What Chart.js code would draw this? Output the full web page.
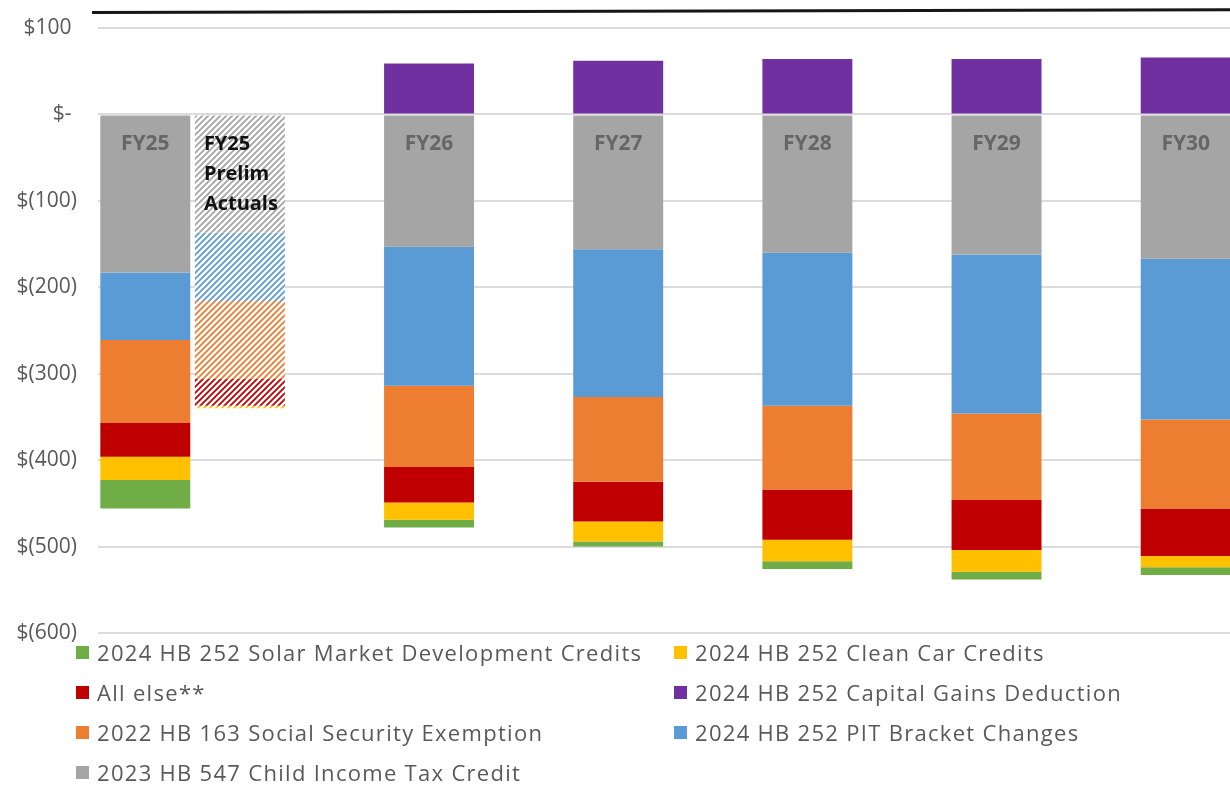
<!DOCTYPE html>
<html>
<head>
<meta charset="utf-8">
<script src="https://cdn.jsdelivr.net/npm/chart.js@4.4.1/dist/chart.umd.min.js"></script>
<style>
  html, body { margin: 0; padding: 0; background: #fff; overflow: hidden; width: 1230px; height: 785px; }
  #wrap { position: relative; width: 1230px; height: 785px; overflow: hidden; }
  #chart { position: absolute; left: 0; top: 0; }
  #topline { position: absolute; left: 92px; top: 11px; width: 1150px; border-top: 3px solid #161616;
             transform-origin: left center; transform: rotate(-0.14deg); }
  #legend { position: absolute; left: 0; top: 632px; width: 1230px;
            font-family: "Open Sans", sans-serif; font-size: 22px; letter-spacing: 1.3px; color: #595959; }
  .item { position: absolute; display: flex; align-items: center; height: 40px; white-space: nowrap; }
  .box { width: 13px; height: 13px; margin-right: 8px; }
</style>
</head>
<body>
<div id="wrap">
  <canvas id="chart" width="1234" height="785"></canvas>
  <div id="topline"></div>
  <div id="legend"></div>
</div>
<script>
// categories (blank slots keep the spacing between FY25 and the later years)
var categories = ["FY25", ["FY25", "Prelim", "Actuals"], "", "FY26", "", "FY27", "", "FY28", "", "FY29", "", "FY30"];

// $ millions
var childCredit    = [-183, -137, null, -153, null, -156, null, -160, null, -162, null, -167];
var pitBrackets    = [-78,  -79,  null, -161, null, -171, null, -177, null, -184, null, -186];
var socialSecurity = [-96,  -90,  null, -94,  null, -98,  null, -97,  null, -100, null, -103];
var allElse        = [-39,  -31,  null, -41,  null, -46,  null, -58,  null, -58,  null, -55];
var cleanCar       = [-27,  -3,   null, -20,  null, -23,  null, -25,  null, -25,  null, -13];
var solar          = [-33,  0,    null, -9,   null, -6,   null, -9,   null, -9,   null, -9];
var capitalGains   = [null, null, null, 59,   null, 62,   null, 64,   null, 64,   null, 66];

var yTicks = [100, 0, -100, -200, -300, -400, -500, -600];

var PRELIM = 1;
var FONT = '"Open Sans", sans-serif';

function hatch(color) {
  var c = document.createElement("canvas");
  c.width = 6; c.height = 6;
  var g = c.getContext("2d");
  g.fillStyle = "#fff";
  g.fillRect(0, 0, 6, 6);
  g.strokeStyle = color;
  g.lineWidth = 1.8;
  g.beginPath();
  g.moveTo(-1, 7); g.lineTo(7, -1);
  g.moveTo(-1, 1); g.lineTo(1, -1);
  g.moveTo(5, 7); g.lineTo(7, 5);
  g.stroke();
  return g.createPattern(c, "repeat");
}

function fills(color) {
  return categories.map(function (c, i) {
    return i === PRELIM ? hatch(color) : color;
  });
}

function makeSet(label, data, color) {
  return {
    label: label,
    data: data,
    color: color,
    backgroundColor: fills(color),
    borderWidth: 0,
    barPercentage: 0.951,
    categoryPercentage: 1
  };
}

var datasets = [
  makeSet("2023 HB 547 Child Income Tax Credit", childCredit, "#A5A5A5"),
  makeSet("2024 HB 252 PIT Bracket Changes", pitBrackets, "#5B9BD5"),
  makeSet("2022 HB 163 Social Security Exemption", socialSecurity, "#ED7D31"),
  makeSet("All else**", allElse, "#C00000"),
  makeSet("2024 HB 252 Clean Car Credits", cleanCar, "#FFC000"),
  makeSet("2024 HB 252 Solar Market Development Credits", solar, "#70AD47"),
  makeSet("2024 HB 252 Capital Gains Deduction", capitalGains, "#7030A0")
];

// category names written inside the top of the grey segment
var barLabels = {
  id: "barLabels",
  afterDatasetsDraw: function (chart) {
    var ctx = chart.ctx;
    var meta = chart.getDatasetMeta(0);
    ctx.save();
    ctx.textBaseline = "middle";
    meta.data.forEach(function (bar, i) {
      if (childCredit[i] === null) return;
      var label = categories[i];
      if (Array.isArray(label)) {
        ctx.font = "bold 20px " + FONT;
        ctx.fillStyle = "#111";
        ctx.textAlign = "left";
        label.forEach(function (line, k) {
          ctx.fillText(line, bar.x - 36, bar.base + 29 + k * 30);
        });
      } else {
        ctx.font = "bold 21px " + FONT;
        ctx.fillStyle = "#666";
        ctx.textAlign = "center";
        ctx.fillText(label, bar.x, bar.base + 29);
      }
    });
    ctx.restore();
  }
};

var chart = new Chart(document.getElementById("chart"), {
  type: "bar",
  data: { labels: categories, datasets: datasets },
  options: {
    responsive: false,
    animation: false,
    layout: { padding: { top: 28, bottom: 152, left: 0, right: 1 } },
    plugins: { legend: { display: false }, tooltip: { enabled: false } },
    scales: {
      x: { stacked: true, display: false },
      y: {
        stacked: true,
        min: -600,
        max: 100,
        afterFit: function (scale) { scale.width = 98; },
        afterBuildTicks: function (scale) {
          scale.ticks = yTicks.map(function (v) { return { value: v }; });
        },
        border: { display: false },
        // invisible tick marks push the labels away from the plot
        grid: { color: "#dcdcdc", lineWidth: 2, drawTicks: true, tickLength: 21, tickColor: "rgba(0,0,0,0)" },
        ticks: {
          padding: 0,
          color: "#595959",
          font: { family: FONT, size: 21 },
          callback: function (v) {
            if (v > 0) return "$" + v + " ";
            if (v === 0) return "$- ";
            return "$(" + Math.abs(v) + ")";
          }
        }
      }
    }
  },
  plugins: [barLabels]
});

// legend, two columns, in the same order as the picture
var legendOrder = [5, 4, 3, 6, 2, 1, 0];
var legendEl = document.getElementById("legend");
legendOrder.forEach(function (dsIndex, n) {
  var ds = chart.data.datasets[dsIndex];
  var item = document.createElement("div");
  item.className = "item";
  item.style.left = (n % 2 === 0 ? 76 : 674) + "px";
  item.style.top = (Math.floor(n / 2) * 40) + "px";
  var box = document.createElement("span");
  box.className = "box";
  box.style.background = ds.color;
  var txt = document.createElement("span");
  txt.textContent = ds.label;
  item.appendChild(box);
  item.appendChild(txt);
  legendEl.appendChild(item);
});
</script>
</body>
</html>
